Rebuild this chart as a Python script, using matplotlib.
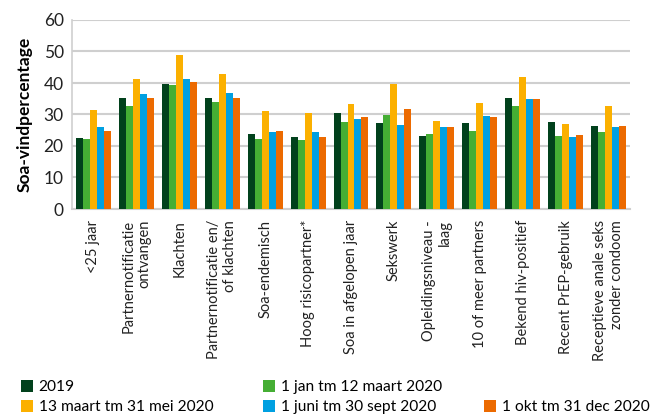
import matplotlib
matplotlib.use("Agg")
import matplotlib.pyplot as plt
import numpy as np

categories = ["<25 jaar", "Partnernotificatie\nontvangen", "Klachten",
              "Partnernotificatie en/\nof klachten", "Soa-endemisch",
              "Hoog risicopartner*", "Soa in afgelopen jaar", "Sekswerk",
              "Opleidingsniveau -\nlaag", "10 of meer partners",
              "Bekend hiv-positief", "Recent PrEP-gebruik",
              "Receptieve anale seks\nzonder condoom"]

series_names = ["2019", "1 jan tm 12 maart 2020", "13 maart tm 31 mei 2020",
                "1 juni tm 30 sept 2020", "1 okt tm 31 dec 2020"]

v2019 = [22.6, 35.2, 39.7, 35.2, 23.8, 22.9, 30.5, 27.3, 23.2, 27.3, 35.2, 27.6, 26.3]
vjan = [22.3, 32.7, 39.4, 34.0, 22.2, 21.9, 27.6, 29.8, 23.8, 24.8, 32.7, 23.2, 24.4]
vmrt = [31.4, 41.3, 48.9, 42.9, 31.1, 30.5, 33.3, 39.7, 27.9, 33.7, 41.9, 27.0, 32.7]
vjun = [26.0, 36.5, 41.3, 36.8, 24.4, 24.4, 28.6, 26.7, 26.0, 29.5, 34.9, 22.9, 26.0]
vokt = [24.8, 35.2, 40.3, 35.2, 24.8, 22.9, 29.2, 31.7, 26.0, 29.2, 34.9, 23.5, 26.3]

colors = ["#01411C", "#45AE34", "#FBB000", "#00A0E1", "#EC6A00"]

plt.rcParams['font.family'] = ['Lato', 'DejaVu Sans']

W, H = 654, 415
fig = plt.figure(figsize=(W / 100, H / 100), dpi=100)
ax = fig.add_axes([72 / W, 1 - 209 / H, (630 - 72) / W, (209 - 20) / H])

x = np.arange(len(categories))
w = 0.163
allv = [v2019, vjan, vmrt, vjun, vokt]
bars = []
for i, (vals, c, n) in enumerate(zip(allv, colors, series_names)):
    b = ax.bar(x + (i - 2) * w, vals, width=w, color=c, label=n, zorder=3)
    bars.append(b)

ax.set_xlim(-0.5, len(categories) - 0.5)
ax.set_ylim(0, 60)
ax.set_yticks(range(0, 61, 10))
ax.yaxis.grid(True, color="#CFCFCF", linewidth=1.5, zorder=0)
ax.set_axisbelow(True)
for s in ["top", "right"]:
    ax.spines[s].set_visible(False)
ax.spines["left"].set_color("#CFCFCF")
ax.spines["left"].set_linewidth(1.2)
ax.spines["bottom"].set_color("#CFCFCF")
ax.spines["bottom"].set_linewidth(1.5)
ax.tick_params(axis="both", length=0, colors="#222222")
ax.tick_params(axis="y", labelsize=12.5, pad=6)
ax.set_xticks(x)
ax.set_xticklabels(categories, rotation=90, fontsize=10.5, multialignment="right")
ax.tick_params(axis="x", pad=8)
ax.set_ylabel("Soa-vindpercentage", fontsize=12.5, fontweight="bold", labelpad=8)

# legend entries placed individually: (x px of square, y px of row centre)
leg_pos = [(21, 387), (263, 387), (21, 407), (263, 407), (484, 407)]
for i, (px, py) in enumerate(leg_pos):
    lg = fig.legend([bars[i]], [series_names[i]], loc="center left",
                    bbox_to_anchor=(px / W, 1 - py / H), frameon=False,
                    fontsize=11.2, handlelength=0.78, handleheight=0.78,
                    handletextpad=0.35, borderpad=0, borderaxespad=0)

fig.savefig("out.png", dpi=100)
